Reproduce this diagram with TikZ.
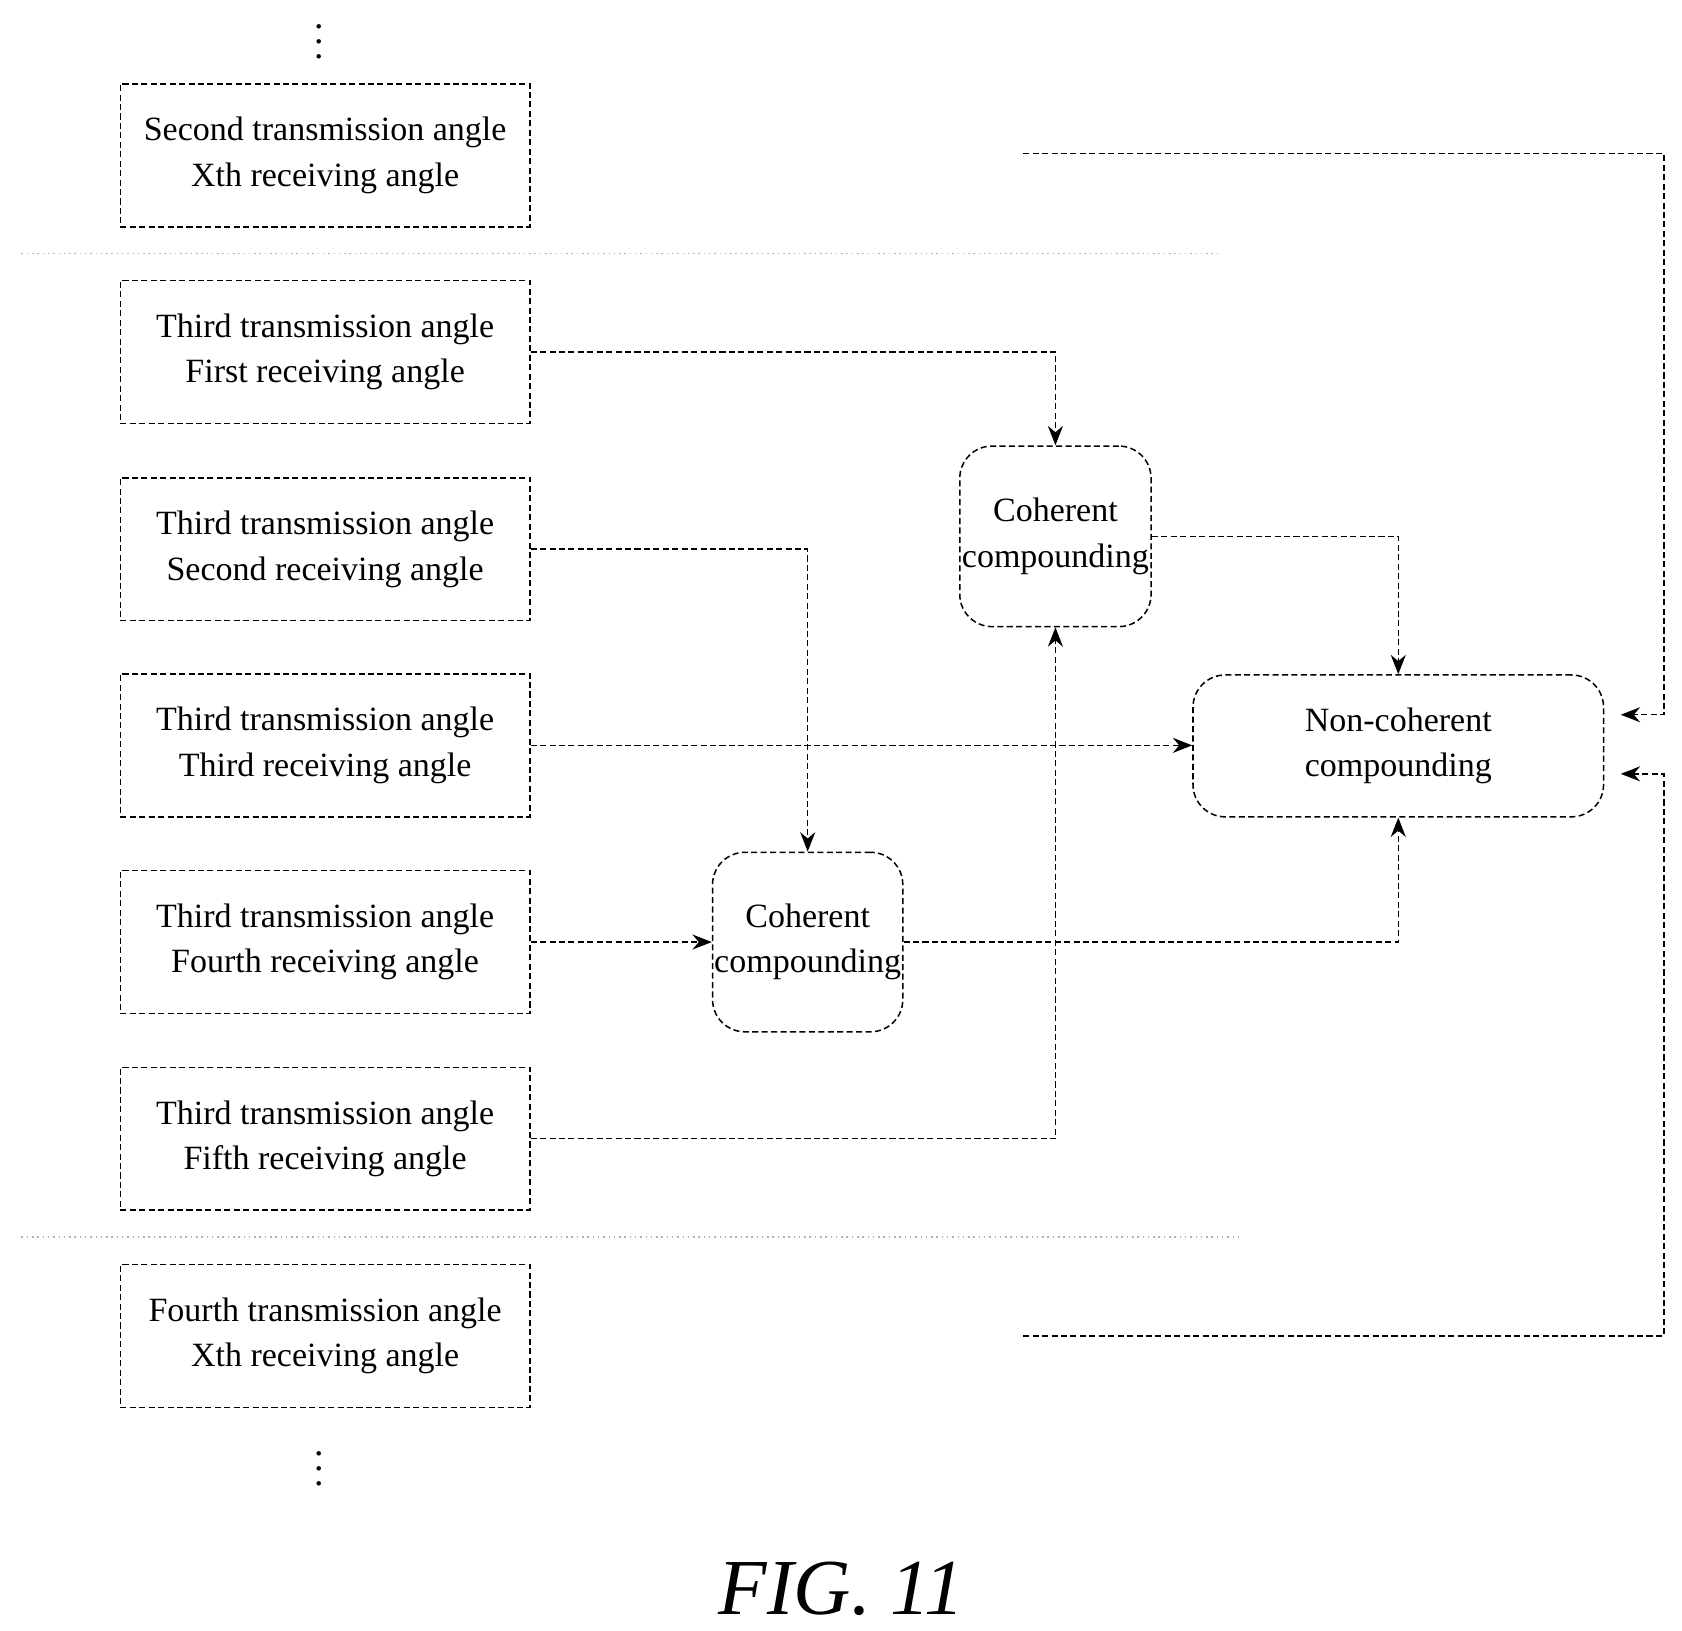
\documentclass[tikz,border=0pt]{standalone}
\usepackage{fontspec}
\setmainfont{Liberation Serif}
\usetikzlibrary{positioning,arrows.meta}
\tikzset{
  fine/.style={dash pattern=on 1.6pt off 0.9pt},
  anglebox/.style={draw,fine,minimum width=3.81cm,minimum height=1.33cm,align=center,font=\fontsize{9}{12}\selectfont},
  compbox/.style={draw,fine,rounded corners=0.3cm,inner sep=0pt,align=center,font=\fontsize{9}{12}\selectfont},
  flow/.style={fine,-{Stealth[length=0.18cm,width=0.14cm]}},
  sep/.style={gray!60,densely dotted}
}
\begin{document}
\begin{tikzpicture}[x=1cm,y=1cm]
      \useasboundingbox (0,0) rectangle (15.65,-15.17);

      % Angle boxes
      \node[anglebox] (b1) at (3.025,-1.445) {Second transmission angle\\Xth receiving angle};
      \node[anglebox] (b2) at (3.025,-3.275) {Third transmission angle\\First receiving angle};
      \node[anglebox] (b3) at (3.025,-5.11) {Third transmission angle\\Second receiving angle};
      \node[anglebox] (b4) at (3.025,-6.935) {Third transmission angle\\Third receiving angle};
      \node[anglebox] (b5) at (3.025,-8.765) {Third transmission angle\\Fourth receiving angle};
      \node[anglebox] (b6) at (3.025,-10.595) {Third transmission angle\\Fifth receiving angle};
      \node[anglebox] (b7) at (3.025,-12.43) {Fourth transmission angle\\Xth receiving angle};

      % Dots and separators
      \node (dtop) at (2.97,-0.28) {$\vdots$};
      \node (dbot) at (2.97,-13.56) {$\vdots$};
      \draw[sep] (0.2,-2.36) -- (11.35,-2.36);
      \draw[sep] (0.2,-11.51) -- (11.53,-11.51);

      % Compounding
      \node[compbox,minimum width=1.78cm,minimum height=1.68cm] (coh1) at (9.82,-4.99) {Coherent\\compounding};
      \node[compbox,minimum width=1.77cm,minimum height=1.67cm] (coh2) at (7.515,-8.765) {Coherent\\compounding};
      \node[compbox,minimum width=3.82cm,minimum height=1.32cm] (ncoh) at (13.01,-6.94) {Non-coherent\\compounding};

      % Connectors
      \draw[flow] (b2.east) -| (coh1.north);
      \draw[flow] (b3.east) -| (coh2.north);
      \draw[flow] (b4.east) -- (ncoh.west |- b4.east);
      \draw[flow] (b5.east) -- (coh2.west);
      \draw[flow] (b6.east) -| (coh1.south);
      \draw[flow] (coh1.east) -| (ncoh.north);
      \draw[flow] (coh2.east) -| (ncoh.south);

      \coordinate (in1) at (9.52,-1.43);
      \coordinate (in2) at (9.52,-12.43);
      \coordinate (t1) at (15.08,-6.65);
      \coordinate (t2) at (15.08,-7.2);
      \draw[flow] (in1) -- (15.48,-1.43) |- (t1);
      \draw[flow] (in2) -- (15.48,-12.43) |- (t2);

      \node[font=\itshape\fontsize{21}{25}\selectfont] (fig) at (7.83,-14.78) {FIG. 11};
\end{tikzpicture}
\end{document}
